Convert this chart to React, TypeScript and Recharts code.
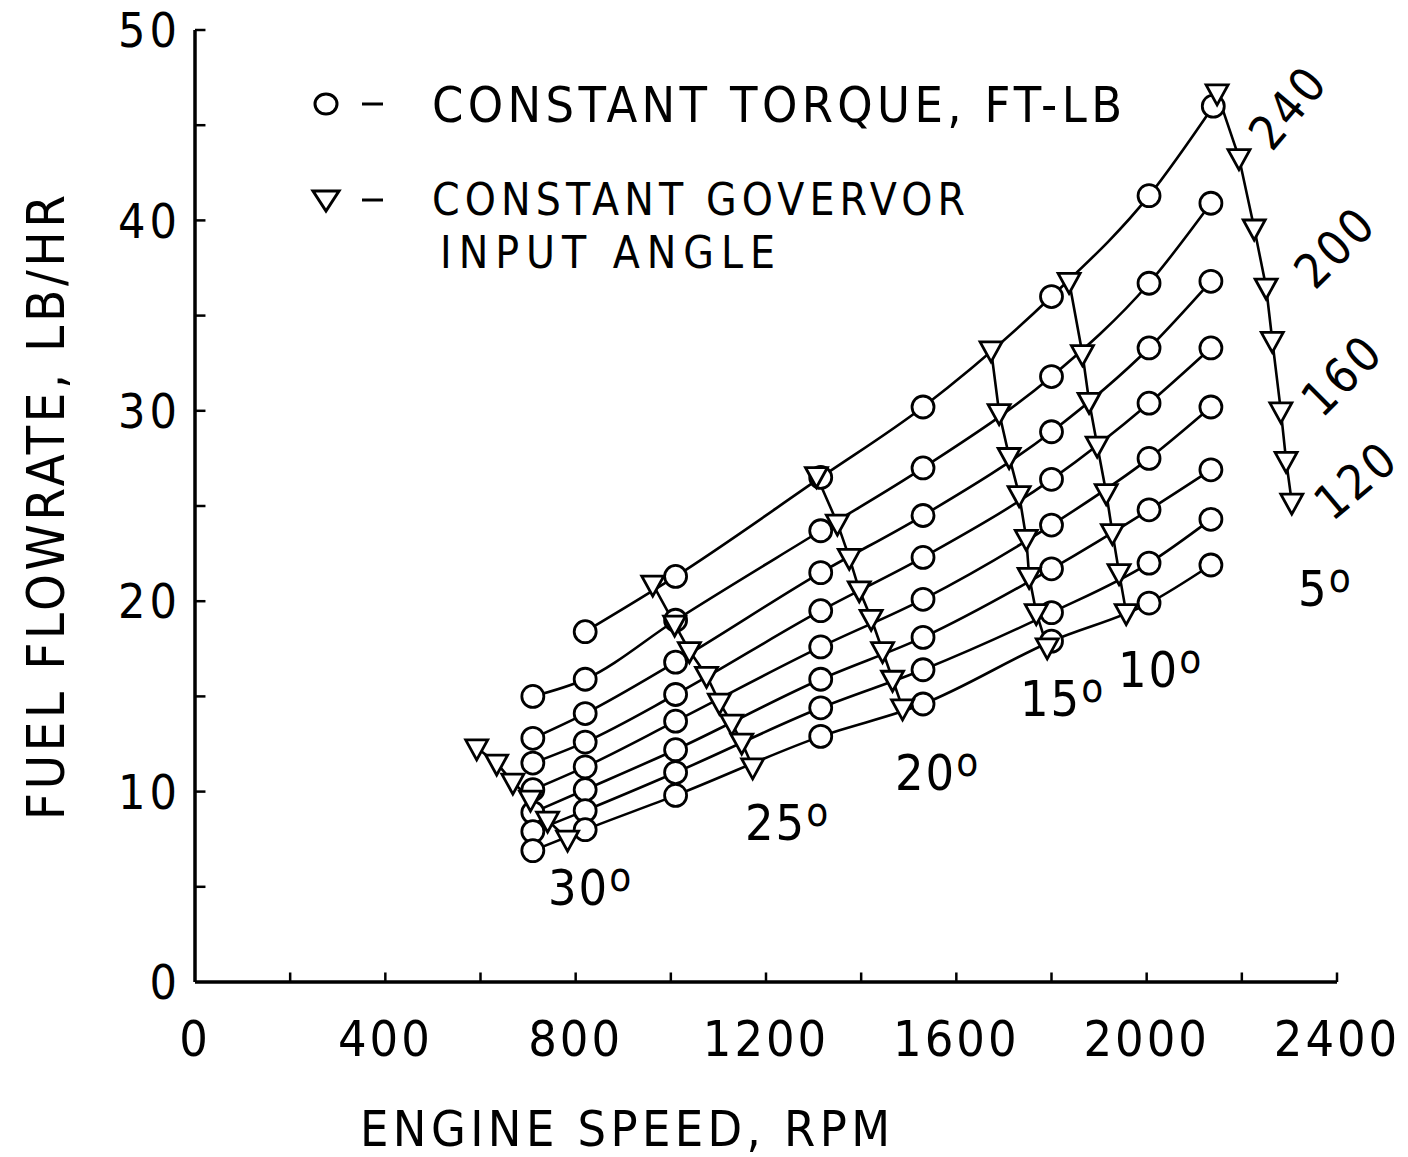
import React from 'react';
import { ComposedChart, Line, XAxis, YAxis, ReferenceLine } from 'recharts';

const FONT = '"Liberation Sans Narrow", "DejaVu Sans Condensed", "Liberation Sans", Arial, sans-serif';

// constant torque lines (ft-lb): [engine speed rpm, fuel lb/hr]
const torque240 = [[820, 18.4], [1010, 21.3], [1315, 26.5], [1530, 30.2], [1800, 36.0], [2005, 41.3], [2140, 46.0]];
const torque220 = [[710, 15.0], [820, 15.9], [1010, 19.0], [1315, 23.7], [1530, 27.0], [1800, 31.8], [2005, 36.7], [2135, 40.9]];
const torque200 = [[710, 12.8], [820, 14.1], [1010, 16.8], [1315, 21.5], [1530, 24.5], [1800, 28.9], [2005, 33.3], [2135, 36.8]];
const torque180 = [[710, 11.5], [820, 12.6], [1010, 15.1], [1315, 19.5], [1530, 22.3], [1800, 26.4], [2005, 30.4], [2135, 33.3]];
const torque160 = [[710, 10.1], [820, 11.3], [1010, 13.7], [1315, 17.6], [1530, 20.1], [1800, 24.0], [2005, 27.5], [2135, 30.2]];
const torque140 = [[710, 8.9], [820, 10.1], [1010, 12.2], [1315, 15.9], [1530, 18.1], [1800, 21.7], [2005, 24.8], [2135, 26.9]];
const torque120 = [[710, 7.9], [820, 9.0], [1010, 11.0], [1315, 14.4], [1530, 16.4], [1800, 19.4], [2005, 22.0], [2135, 24.3]];
const torque100 = [[710, 6.9], [820, 8.0], [1010, 9.8], [1315, 12.9], [1530, 14.6], [1800, 17.9], [2005, 19.9], [2135, 21.9]];

// constant governor input angle lines
const gov30 = [[592, 12.3], [634, 11.5], [668, 10.5], [705, 9.6], [741, 8.5], [783, 7.5]];
const gov25 = [[962, 20.9], [1008, 18.8], [1039, 17.4], [1075, 16.1], [1102, 14.7], [1128, 13.6], [1149, 12.6], [1172, 11.3]];
const gov20 = [[1306, 26.6], [1350, 24.1], [1375, 22.3], [1396, 20.6], [1421, 19.1], [1445, 17.4], [1466, 15.9], [1487, 14.4]];
const gov15 = [[1673, 33.2], [1690, 29.9], [1711, 27.6], [1732, 25.6], [1747, 23.3], [1753, 21.3], [1768, 19.4], [1791, 17.6]];
const gov10 = [[1837, 36.8], [1865, 33.0], [1879, 30.5], [1896, 28.2], [1915, 25.7], [1928, 23.6], [1942, 21.5], [1957, 19.4]];
const gov5 = [[2148, 46.7], [2194, 43.3], [2226, 39.6], [2251, 36.5], [2264, 33.7], [2282, 30.0], [2293, 27.4], [2305, 25.2]];

const torqueLines = [torque240, torque220, torque200, torque180, torque160, torque140, torque120, torque100];
const govLines = [gov30, gov25, gov20, gov15, gov10, gov5];

const xTicks = [0, 400, 800, 1200, 1600, 2000, 2400];
const yTicks = [0, 10, 20, 30, 40, 50];
const xMinor = [200, 400, 600, 800, 1000, 1200, 1400, 1600, 1800, 2000, 2200, 2400];
const yMinor = [5, 10, 15, 20, 25, 30, 35, 40, 45, 50];

const toXY = (pts: number[][]) => pts.map(([x, y]) => ({ x, y }));

const CircleDot = (p: any) => (
    <circle key={`c-${p.index}`} cx={p.cx} cy={p.cy} r={11} fill="#fff" stroke="#000" strokeWidth={2.8} />
);

const TriDot = (p: any) => {
    const { cx, cy } = p;
    return (
        <path
            key={`t-${p.index}`}
            d={`M${cx - 11},${cy - 8}L${cx + 11},${cy - 8}L${cx},${cy + 12}Z`}
            fill="#fff"
            stroke="#000"
            strokeWidth={2.8}
        />
    );
};

const XTick = ({ x, y, payload }: any) => (
    <text x={x} y={y} dy="0.71em" textAnchor="middle" fontFamily={FONT} fontSize={50} letterSpacing={3} fill="#000">
        {payload.value}
    </text>
);

const YTick = ({ x, y, payload }: any) => (
    <text x={x} y={y} dy="0.36em" textAnchor="end" fontFamily={FONT} fontSize={48} letterSpacing={4} fill="#000">
        {payload.value}
    </text>
);

const Deg = ({ x, y, n }: { x: number; y: number; n: string }) => (
    <text x={x} y={y} fontFamily={FONT} fontSize={50} fill="#000" letterSpacing={2}>
        {n}
        <tspan dy={-14} fontSize={40}>o</tspan>
    </text>
);

const Rot = ({ x, y, a, t }: { x: number; y: number; a: number; t: string }) => (
    <text x={x} y={y} transform={`rotate(${a} ${x} ${y})`} textAnchor="middle" dominantBaseline="central"
        fontFamily={FONT} fontSize={48} letterSpacing={3} fill="#000">
        {t}
    </text>
);

export default function App() {
    return (
        <div style={{ position: 'absolute', left: 0, top: 0, width: 1408, height: 1157, background: '#fff' }}>
            <ComposedChart width={1408} height={1157} margin={{ top: 30, right: 71, left: 115, bottom: 95 }}>
                <XAxis
                    type="number"
                    dataKey="x"
                    domain={[0, 2400]}
                    ticks={xTicks}
                    interval={0}
                    height={80}
                    tickSize={0}
                    tickMargin={38}
                    tick={XTick}
                    tickLine={false}
                    axisLine={{ stroke: '#000', strokeWidth: 3.5 }}
                    allowDataOverflow
                />
                <YAxis
                    type="number"
                    dataKey="y"
                    domain={[0, 50]}
                    ticks={yTicks}
                    interval={0}
                    width={80}
                    tickSize={0}
                    tickMargin={14}
                    tick={YTick}
                    tickLine={false}
                    axisLine={{ stroke: '#000', strokeWidth: 3.5 }}
                    allowDataOverflow
                />
                {xMinor.map((v) => (
                    <ReferenceLine key={`xm${v}`} segment={[{ x: v, y: 0 }, { x: v, y: 0.5 }]} stroke="#000" strokeWidth={2.5} ifOverflow="visible" />
                ))}
                {yMinor.map((v) => (
                    <ReferenceLine key={`ym${v}`} segment={[{ x: 0, y: v }, { x: 22, y: v }]} stroke="#000" strokeWidth={2.5} ifOverflow="visible" />
                ))}
                {torqueLines.map((s, i) => (
                    <Line
                        key={`tq${i}`}
                        data={toXY(s)}
                        dataKey="y"
                        type="monotone"
                        stroke="#000"
                        strokeWidth={2.6}
                        dot={CircleDot}
                        activeDot={false}
                        isAnimationActive={false}
                    />
                ))}
                {govLines.map((s, i) => (
                    <Line
                        key={`gv${i}`}
                        data={toXY(s)}
                        dataKey="y"
                        type="linear"
                        stroke="#000"
                        strokeWidth={2.6}
                        dot={TriDot}
                        activeDot={false}
                        isAnimationActive={false}
                    />
                ))}
            </ComposedChart>
            <svg width={1408} height={1157} style={{ position: 'absolute', left: 0, top: 0, pointerEvents: 'none' }}>
                {/* legend */}
                <ellipse cx={326} cy={104} rx={11} ry={10} fill="none" stroke="#000" strokeWidth={3} />
                <line x1={362} y1={104} x2={383} y2={104} stroke="#000" strokeWidth={3} />
                <text x={432} y={122} textLength={690} lengthAdjust="spacing" fontFamily={FONT} fontSize={50} fill="#000">
                    CONSTANT TORQUE, FT-LB
                </text>
                <path d="M313,191L339,191L326,211Z" fill="none" stroke="#000" strokeWidth={3} />
                <line x1={362} y1={200} x2={383} y2={200} stroke="#000" strokeWidth={3} />
                <text x={432} y={215} textLength={533} lengthAdjust="spacing" fontFamily={FONT} fontSize={44} fill="#000">
                    CONSTANT GOVERVOR
                </text>
                <text x={440} y={268} textLength={335} lengthAdjust="spacing" fontFamily={FONT} fontSize={44} fill="#000">
                    INPUT ANGLE
                </text>

                {/* axis titles */}
                <text x={0} y={0} transform="translate(64 820) rotate(-90)" textLength={625} lengthAdjust="spacing"
                    fontFamily={FONT} fontSize={52} fill="#000">
                    FUEL FLOWRATE, LB/HR
                </text>
                <text x={360} y={1146} textLength={530} lengthAdjust="spacing" fontFamily={FONT} fontSize={50} fill="#000">
                    ENGINE SPEED, RPM
                </text>

                {/* torque annotations */}
                <Rot x={1288} y={107} a={-50} t="240" />
                <Rot x={1335} y={247} a={-45} t="200" />
                <Rot x={1342} y={375} a={-45} t="160" />
                <Rot x={1356} y={480} a={-40} t="120" />

                {/* governor angle annotations */}
                <Deg x={1298} y={606} n="5" />
                <Deg x={1118} y={687} n="10" />
                <Deg x={1020} y={716} n="15" />
                <Deg x={895} y={790} n="20" />
                <Deg x={745} y={840} n="25" />
                <Deg x={548} y={905} n="30" />
            </svg>
        </div>
    );
}
